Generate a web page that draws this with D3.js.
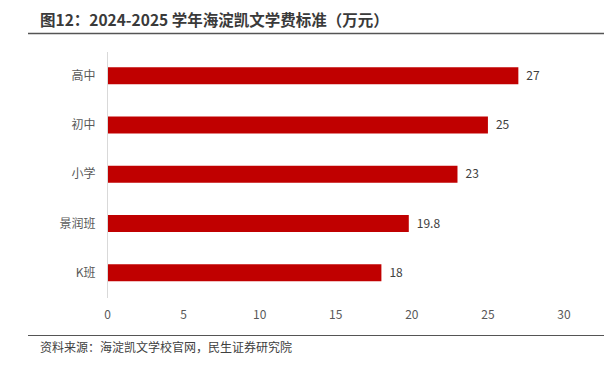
<!DOCTYPE html>
<html>
<head>
<meta charset="utf-8">
<script src="https://cdn.jsdelivr.net/npm/d3@7"></script>
<style>
  body { margin: 0; background: #fff; }
  text { font-family: "Noto Sans CJK SC", "Noto Sans", sans-serif; }
</style>
</head>
<body>
<script>
// 数据
const categories = ['高中', '初中', '小学', '景润班', 'K班'];
const values = [27, 25, 23, 19.8, 18];
const xTicks = [0, 5, 10, 15, 20, 25, 30];

const width = 604, height = 378;
const svg = d3.select('body').append('svg')
    .attr('width', width)
    .attr('height', height);

// 标题
svg.append('text')
    .attr('x', 40).attr('y', 26)
    .attr('font-size', 15.5).attr('font-weight', 'bold')
    .attr('fill', '#3a3a3a')
    .text('图12：2024-2025 学年海淀凯文学费标准（万元）');

svg.append('line')
    .attr('x1', 28).attr('x2', width)
    .attr('y1', 33.5).attr('y2', 33.5)
    .attr('stroke', '#555').attr('stroke-width', 1.5);

const x = d3.scaleLinear().domain([0, 30]).range([107.5, 564]);
const y = d3.scaleBand().domain(categories).range([51, 297.5]).paddingInner(0.655).paddingOuter(0.33);

// 纵轴线
svg.append('line')
    .attr('x1', x(0)).attr('x2', x(0))
    .attr('y1', 52).attr('y2', 298)
    .attr('stroke', '#d9d9d9').attr('stroke-width', 1);

// 条形
svg.append('g').selectAll('rect')
    .data(values)
    .enter()
    .append('rect')
    .attr('x', x(0) + 0.5)
    .attr('y', (d, i) => y(categories[i]))
    .attr('width', d => x(d) - x(0) - 0.5)
    .attr('height', y.bandwidth())
    .attr('fill', '#c00000');

// 数值标签
svg.append('g').selectAll('text')
    .data(values)
    .enter()
    .append('text')
    .attr('x', d => x(d) + 8)
    .attr('y', (d, i) => y(categories[i]) + y.bandwidth() / 2)
    .attr('dy', '0.35em')
    .attr('font-size', 12)
    .attr('fill', '#404040')
    .text(d => d);

// 类别标签
svg.append('g').selectAll('text')
    .data(categories)
    .enter()
    .append('text')
    .attr('x', x(0) - 12)
    .attr('y', d => y(d) + y.bandwidth() / 2)
    .attr('dy', '0.35em')
    .attr('text-anchor', 'end')
    .attr('font-size', 12)
    .attr('fill', '#595959')
    .text(d => d);

// 横轴刻度
svg.append('g').selectAll('text')
    .data(xTicks)
    .enter()
    .append('text')
    .attr('x', d => x(d))
    .attr('y', 315)
    .attr('dy', '0.35em')
    .attr('text-anchor', 'middle')
    .attr('font-size', 12)
    .attr('fill', '#595959')
    .text(d => d);

// 底部线与来源
svg.append('line')
    .attr('x1', 28).attr('x2', width)
    .attr('y1', 335.5).attr('y2', 335.5)
    .attr('stroke', '#555').attr('stroke-width', 1.2);

svg.append('text')
    .attr('x', 40).attr('y', 352)
    .attr('font-size', 12)
    .attr('fill', '#404040')
    .text('资料来源：海淀凯文学校官网，民生证券研究院');
</script>
</body>
</html>
